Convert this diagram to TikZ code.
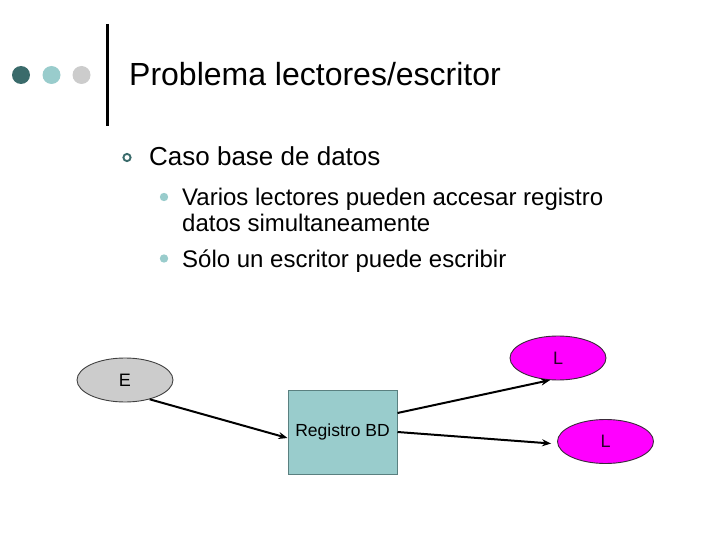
\documentclass[tikz,border=0pt]{standalone}
\usepackage{fontspec}
\setmainfont{Liberation Sans}
\usetikzlibrary{shapes.geometric,arrows.meta}
\definecolor{darkteal}{HTML}{3A6B6B}
\definecolor{lightteal}{HTML}{99CCCC}
\definecolor{lightgray}{HTML}{CCCCCC}
\definecolor{boxborder}{HTML}{5A8080}
\definecolor{magentaL}{HTML}{FF00FF}
\definecolor{lborder}{HTML}{3A2A3A}
\definecolor{ltext}{HTML}{2A002A}
\tikzset{
  txt/.style={anchor=base west, inner sep=0pt},
  proc/.style={ellipse, draw=#1, line width=0.9pt, minimum width=96pt, minimum height=44pt, inner sep=0pt, font=\fontsize{18}{20}\selectfont},
  conn/.style={line width=2pt, -{Stealth[length=9pt,width=7pt]}}
}
\begin{document}
\begin{tikzpicture}[x=1pt,y=-1pt]
\useasboundingbox (0,0) rectangle (720,540);
% header decoration
\fill[darkteal] (21,75) circle (9);
\fill[lightteal] (51.5,75) circle (9);
\fill[lightgray] (81.5,75) circle (9);
\draw[line width=3.5pt] (107.5,24) -- (107.5,126.5);
\node[txt, font=\fontsize{32}{38}\selectfont] (title) at (129,86) {Problema lectores/escritor};
% bullets
\draw[darkteal, line width=1.9pt] (127,157.5) circle (3.6);
\node[txt, font=\fontsize{26}{30}\selectfont] (caso) at (149,166) {Caso base de datos};
\fill[lightteal] (164,197) circle (4.2);
\node[txt, font=\fontsize{24}{28}\selectfont] (varios) at (182,206) {Varios lectores pueden accesar registro};
\node[txt, font=\fontsize{24}{28}\selectfont] (datos) at (182,232) {datos simultaneamente};
\fill[lightteal] (164,258.5) circle (4.2);
\node[txt, font=\fontsize{24}{28}\selectfont] (solo) at (182,267) {Sólo un escritor puede escribir};
% diagram
\node[proc=darkgray, fill=lightgray] (E) at (125,380) {E};
\node[draw=boxborder, fill=lightteal, line width=1pt, minimum width=109pt, minimum height=84pt, inner sep=0pt, font=\fontsize{17.5}{20}\selectfont] (R) at (342.5,432) {Registro BD};
\node[proc=lborder, fill=magentaL, text=ltext] (L1) at (558,358) {L};
\node[proc=lborder, fill=magentaL, text=ltext] (L2) at (605.5,441.5) {L};
\draw[conn] (E.-38) -- ([yshift=-6pt]R.west);
\draw[conn] ([yshift=19pt]R.east) -- (L1.-110);
\draw[conn] (R.east) -- ([xshift=-6pt,yshift=-2pt]L2.west);
\end{tikzpicture}
\end{document}
